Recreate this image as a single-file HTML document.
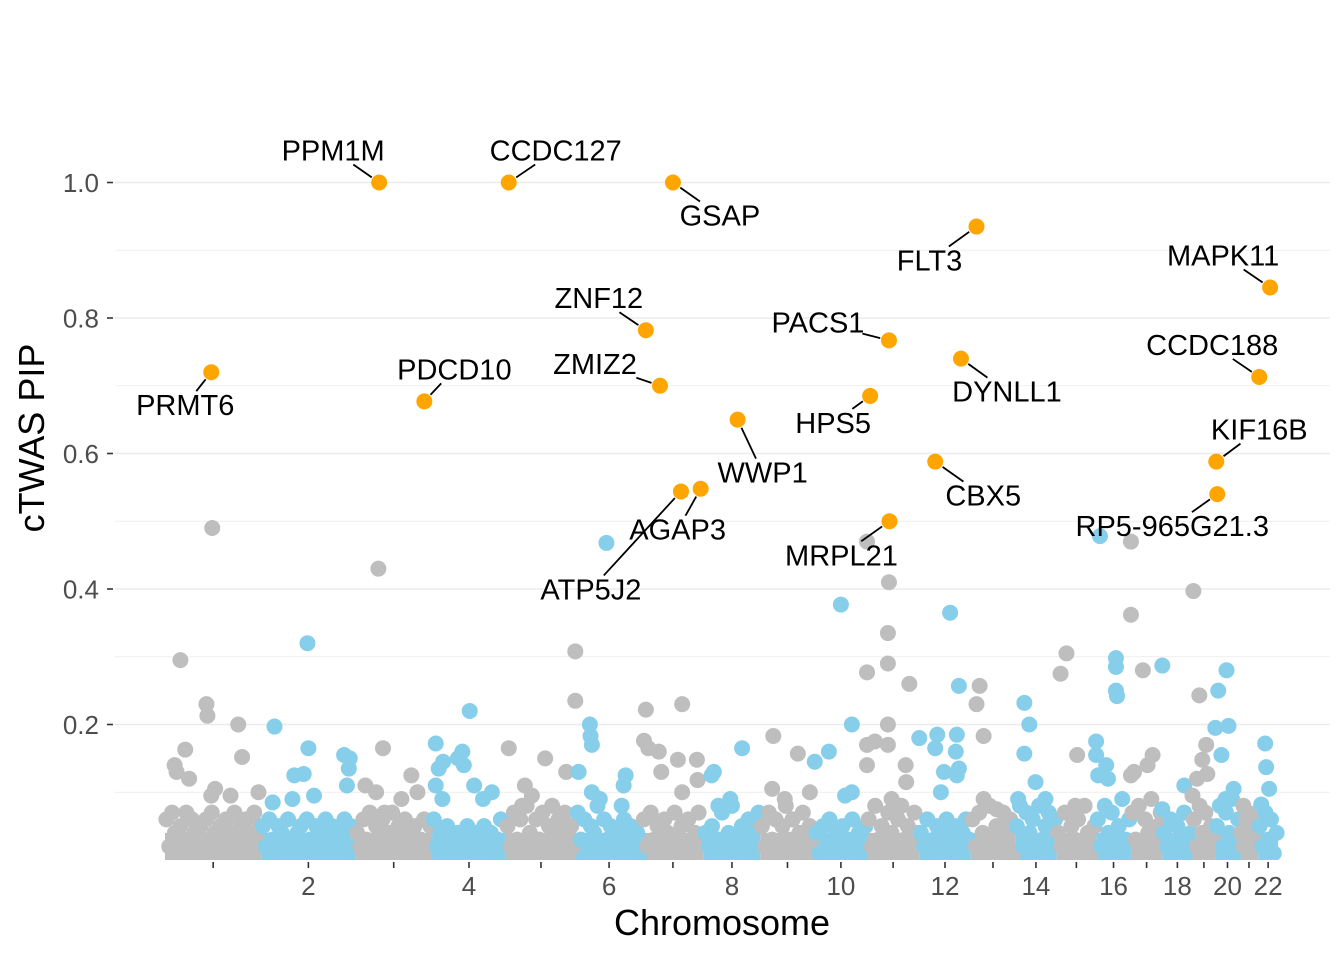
<!DOCTYPE html>
<html><head><meta charset="utf-8"><style>
body{margin:0;background:#fff}
svg{display:block;font-family:"Liberation Sans",Arial,sans-serif}
</style></head><body>
<svg id="chart" width="1344" height="960" xmlns="http://www.w3.org/2000/svg">
<defs><clipPath id="panel"><rect x="115" y="0" width="1215" height="860"/></clipPath></defs>
<g id="grid"></g>
<g id="pts" clip-path="url(#panel)"></g>
<g id="hl"></g>
<g id="axes"></g>
<text transform="translate(44,438) rotate(-90)" text-anchor="middle" font-size="36" fill="#000">cTWAS PIP</text>
<text x="722" y="935" text-anchor="middle" font-size="36" fill="#000">Chromosome</text>
</svg>
<script>
const chrLengths=[249,243,198,191,181,171,159,146,141,135,135,133,115,107,102,90,81,78,59,63,48,51];
const xTickLabels=["","2","","4","","6","","8","","10","","12","","14","","16","","18","","20","","22"];
const yTicks=[0.2,0.4,0.6,0.8,1.0];
const yTickLabels=["0.2","0.4","0.6","0.8","1.0"];
// notable background points: chromosome, fraction within chr, pip
const bgChr=[1,1,1,1,1,1,1,1,1,1,1,1,1,1, 2,2,2,2,2,2,2,2,2,2,2,2, 3,3,3,3,3,3,3,3, 4,4,4,4,4,4,4,4,4,4,4,4, 5,5,5,5,5,5,5,5, 6,6,6,6,6,6,6,6,6,6, 7,7,7,7,7,7,7,7,7,7, 8,8,8,8,8, 9,9,9,9,9, 10,10,10,10,10,10, 11,11,11,11,11,11,11,11,11,11,11,11,11,11, 12,12,12,12,12,12,12,12,12,12,12, 13,13,13,13,13, 14,14,14,14,14,14, 15,15,15,15, 16,16,16,16,16,16,16,16,16,16, 17,17,17,17,17,17,17, 18,18,18, 19,19,19,19,19,19,19, 20,20,20,20,20,20,20, 21,21, 22,22,22,22];
const bgFrac=[.16,.49,.43,.44,.76,.21,.80,.10,.12,.25,.52,.48,.68,.97, .49,.14,.50,.45,.35,.56,.12,.33,.88,.94,.93,.91, .30,.36,.27,.13,.60,.73,.81,.38, .51,.05,.41,.35,.43,.09,.15,.57,.05,.81,.69,.14, .04,.99,.99,.56,.27,.23,.37,.86, .46,.21,.22,.04,.75,.72,.69,.24,.24,.36, .06,.03,.10,.27,.65,.58,.89,.90,.31,.65, .18,.68,.14,.47,.26, .24,.69,.22,.91,.45, .5,.71,.27,.0,.71,.58, .0,.42,.40,.40,.0,.81,.40,.15,.0,.0,.74,.75,.40,.47, .6,.77,.35,.31,.0,.73,.71,.48,.77,.73,.42, .2,.13,.29,.29,.58, .22,.34,.22,.49,.07,.73, .25,.1,.52,.47, .11,.57,.57,.57,.6,.0,.0,.29,.06,.34, .0,.0,.38,.1,.0,.69,.53, .0,.0,.73, .04,.3,.43,.6,.65,.2,.0, .46,.12,.0,.54,.25,.75,.42, .2,.42, .35,.4,.55,.15];
const bgPip=[.295,.49,.23,.213,.20,.163,.152,.14,.13,.12,.105,.095,.095,.10, .32,.197,.165,.127,.125,.095,.085,.09,.155,.15,.135,.11, .43,.165,.10,.11,.09,.125,.10,.07, .22,.172,.16,.15,.14,.135,.145,.11,.11,.10,.09,.09, .165,.308,.235,.15,.11,.08,.095,.13, .468,.20,.183,.13,.125,.11,.08,.17,.10,.09, .222,.176,.165,.16,.23,.148,.148,.118,.13,.10, .13,.165,.125,.09,.08, .183,.157,.105,.10,.09, .377,.20,.16,.145,.10,.095, .47,.41,.335,.29,.277,.26,.20,.175,.17,.14,.14,.115,.17,.09, .365,.257,.185,.165,.18,.185,.16,.13,.135,.125,.10, .257,.23,.183,.09,.075, .232,.20,.157,.115,.09,.09, .305,.275,.155,.08, .478,.298,.285,.25,.242,.175,.155,.14,.125,.12, .47,.362,.28,.13,.125,.155,.14, .287,.075,.11, .397,.243,.148,.17,.127,.12,.095, .28,.25,.195,.198,.155,.105,.09, .08,.07, .172,.137,.105,.082];
// low-band pips per chromosome, evenly spaced along chromosome
const lowPips=[
"0.06 0.02 0.07 0.04 0.01 0.05 0.03 0.07 0.02 0.06 0.04 0.01 0.05 0.03 0.06 0.02 0.07 0.04 0.01 0.05 0.03 0.06 0.02 0.04 0.07 0.01 0.05 0.03 0.06 0.02 0.04 0.07 0.03 0.05",
"0.05 0.02 0.06 0.03 0.01 0.05 0.04 0.02 0.06 0.03 0.01 0.04 0.05 0.02 0.06 0.03 0.01 0.05 0.04 0.02 0.06 0.03 0.05 0.01 0.04 0.02 0.06 0.03 0.05 0.04",
"0.04 0.02 0.06 0.03 0.07 0.01 0.05 0.03 0.06 0.02 0.04 0.07 0.01 0.05 0.03 0.06 0.02 0.04 0.05 0.01 0.03 0.06 0.02 0.05",
"0.06 0.02 0.04 0.01 0.05 0.03 0.02 0.04 0.01 0.03 0.05 0.02 0.04 0.01 0.03 0.05 0.02 0.04 0.01 0.03 0.06 0.02",
"0.05 0.02 0.07 0.03 0.06 0.01 0.08 0.04 0.02 0.06 0.03 0.07 0.01 0.05 0.08 0.02 0.06 0.04 0.07 0.03 0.05 0.02",
"0.07 0.03 0.06 0.01 0.05 0.04 0.08 0.02 0.06 0.03 0.05 0.01 0.04 0.02 0.06 0.03 0.05 0.02 0.04 0.01",
"0.06 0.02 0.07 0.03 0.05 0.01 0.06 0.04 0.02 0.07 0.03 0.05 0.01 0.06 0.02 0.04 0.07 0.03",
"0.04 0.02 0.05 0.01 0.03 0.07 0.02 0.04 0.08 0.01 0.03 0.05 0.02 0.06 0.04 0.02 0.07",
"0.05 0.02 0.07 0.03 0.06 0.01 0.05 0.08 0.03 0.06 0.02 0.04 0.07 0.01 0.05 0.03",
"0.04 0.01 0.05 0.02 0.06 0.03 0.04 0.01 0.05 0.02 0.03 0.06 0.01 0.04 0.02 0.05",
"0.06 0.02 0.08 0.03 0.05 0.01 0.07 0.04 0.02 0.06 0.08 0.03 0.05 0.01 0.07 0.04",
"0.04 0.02 0.06 0.01 0.03 0.05 0.02 0.04 0.06 0.01 0.03 0.05 0.02 0.04 0.06 0.03",
"0.06 0.02 0.07 0.04 0.01 0.08 0.03 0.05 0.02 0.07 0.04 0.06 0.01",
"0.05 0.08 0.02 0.07 0.04 0.06 0.01 0.08 0.03 0.05 0.07 0.02 0.06",
"0.04 0.02 0.07 0.01 0.05 0.03 0.06 0.02 0.08 0.04 0.01 0.05",
"0.06 0.02 0.08 0.04 0.07 0.01 0.05 0.09 0.03 0.06",
"0.07 0.03 0.08 0.02 0.06 0.04 0.09 0.01 0.05 0.07",
"0.04 0.02 0.06 0.01 0.05 0.03 0.07 0.02 0.04",
"0.06 0.02 0.08 0.04 0.07 0.01 0.05 0.03",
"0.05 0.08 0.02 0.07 0.04 0.09 0.01 0.06",
"0.04 0.02 0.06 0.01 0.05 0.03 0.07",
"0.05 0.02 0.07 0.03 0.06 0.01 0.04"];
// highlighted genes
const genes=["PRMT6","PPM1M","CCDC127","GSAP","FLT3","MAPK11","ZNF12","PACS1","DYNLL1","CCDC188","PDCD10","ZMIZ2","HPS5","WWP1","KIF16B","CBX5","ATP5J2","AGAP3","MRPL21","RP5-965G21.3"];
const geneChr=[1,3,5,7,13,22,7,11,12,22,3,7,11,8,20,12,7,7,11,20];
const geneFrac=[.48,.31,.04,.50,.13,.60,.06,.42,.81,.05,.90,.29,.06,.60,.04,.31,.63,.95,.43,.08];
const genePip=[.72,1.0,1.0,1.0,.935,.845,.782,.767,.74,.713,.677,.70,.685,.65,.588,.588,.544,.548,.50,.54];
// label placement offsets (layout, px from point)
const labDx=[-26,-46,47,47,-47,-47,-47,-71,46,-47,30,-65,-37,25,43,48,-90,-23,-48,-45];
const labDy=[33,-32,-32,33,34,-32,-32,-18,33,-32,-32,-22,27,53,-32,34,98,41,34,32];

const NS="http://www.w3.org/2000/svg";
const X0=165,X1=1278,PL=115,PR=1330,Y0=860,YS=677.5,R=8;
const total=chrLengths.reduce((a,b)=>a+b,0);
const starts=[];let acc=0;chrLengths.forEach(l=>{starts.push(acc);acc+=l;});
const xs=mb=>X0+(X1-X0)*mb/total;
const xc=(c,f)=>xs(starts[c-1]+f*chrLengths[c-1]);
const ys=p=>Y0-p*YS;
function mk(tag,at,par){const e=document.createElementNS(NS,tag);for(const k in at)e.setAttribute(k,at[k]);par.appendChild(e);return e;}
const grid=document.getElementById('grid'),pts=document.getElementById('pts'),hl=document.getElementById('hl'),axes=document.getElementById('axes');
for(let i=1;i<=10;i++){const p=i/10;const l=mk('line',{x1:PL,x2:PR,y1:ys(p),y2:ys(p),stroke:'#ebebeb','stroke-width':i%2?0.8:1.6},grid);

}
const col=c=>c%2?'#bebebe':'#87ceeb';
chrLengths.forEach((l,ci)=>{const r=mk('rect',{x:xs(starts[ci]),y:ys(0.04),width:xs(starts[ci]+l)-xs(starts[ci]),height:ys(0)-ys(0.04),fill:col(ci+1)},pts);

});
lowPips.forEach((s,ci)=>{const v=s.split(' ').map(Number);const n=v.length;v.forEach((p,j)=>{
const c=mk('circle',{cx:xc(ci+1,(j+0.5)/n),cy:ys(p),r:R,fill:col(ci+1)},pts);

});});
bgChr.forEach((ch,i)=>{const c=mk('circle',{cx:xc(ch,bgFrac[i]),cy:ys(bgPip[i]),r:R,fill:col(ch)},pts);

});
yTicks.forEach((p,i)=>{const y=ys(p);
const t=mk('line',{x1:107,x2:113,y1:y,y2:y,stroke:'#333','stroke-width':1.6},axes);


const tx=mk('text',{x:99,y:y+9.5,'text-anchor':'end','font-size':26,fill:'#4d4d4d'},axes);tx.textContent=yTickLabels[i];

});
chrLengths.forEach((l,i)=>{const x=xs(starts[i]+l/2);
const t=mk('line',{x1:x,x2:x,y1:862,y2:868,stroke:'#333','stroke-width':1.6},axes);


if(xTickLabels[i]){const tx=mk('text',{x:x,y:895,'text-anchor':'middle','font-size':26,fill:'#4d4d4d'},axes);tx.textContent=xTickLabels[i];

}});
genes.forEach((g,i)=>{const px=xc(geneChr[i],geneFrac[i]),py=ys(genePip[i]);
const lx=px+labDx[i],ly=py+labDy[i];const w=g.length*17/2+2,h=14;
const dx=lx-px,dy=ly-py;let t=1;
if(Math.abs(dx)>0)t=Math.min(t,Math.max(0,(Math.abs(dx)-w)/Math.abs(dx)));
let t2=Math.abs(dy)>0?Math.max(0,(Math.abs(dy)-h)/Math.abs(dy)):0;t=Math.max(Math.min(1,t),t2);
const L=Math.hypot(dx,dy),s=9/L;
if(t>s){const seg=mk('line',{x1:px+dx*s,y1:py+dy*s,x2:px+dx*t,y2:py+dy*t,stroke:'#000','stroke-width':1.8},hl);

}
const c=mk('circle',{cx:px,cy:py,r:R,fill:'#ffa500'},hl);


const tx=mk('text',{x:lx,y:ly+10,'text-anchor':'middle','font-size':29,fill:'#000'},hl);tx.textContent=g;

});
</script>
</body></html>
